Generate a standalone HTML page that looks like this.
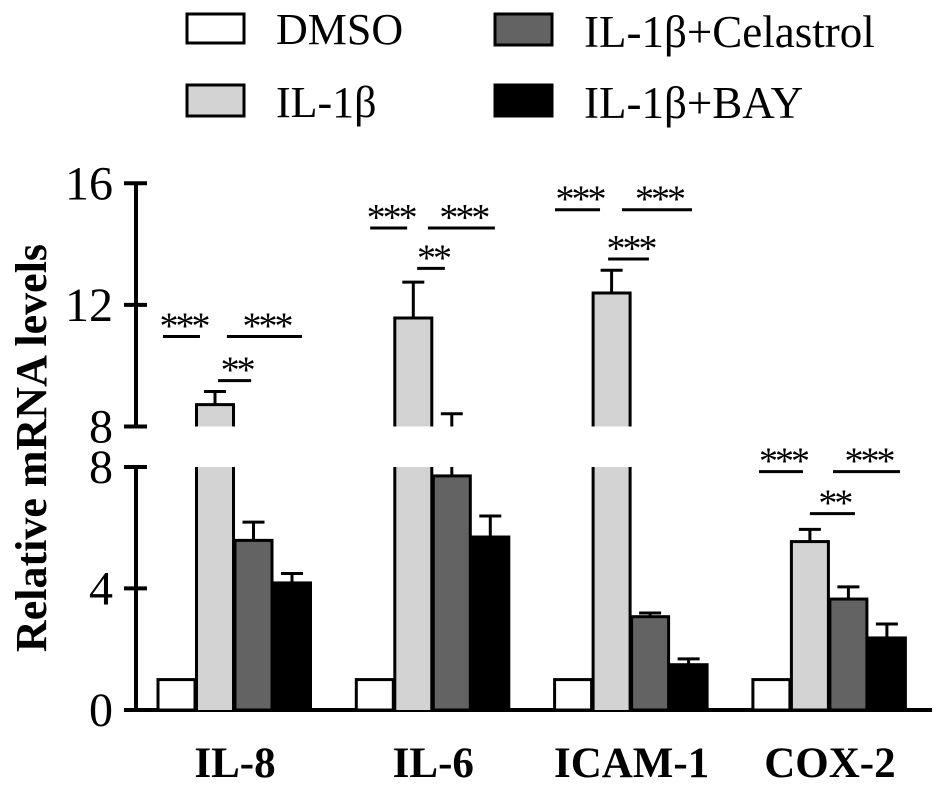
<!DOCTYPE html>
<html><head><meta charset="utf-8"><style>
html,body{margin:0;padding:0;background:#fff;}
svg{display:block;font-family:"Liberation Serif",serif;}
</style></head><body>
<svg id="chart" width="945" height="787" viewBox="0 0 945 787">
<g id="legend">
  <g><rect x="187" y="14" width="57" height="29" fill="#fff" stroke="#000" stroke-width="3"/><text x="276" y="44" font-size="44">DMSO</text></g>
  <g><rect x="187" y="85" width="57" height="31" fill="#d3d3d3" stroke="#000" stroke-width="3"/><text x="276" y="117" font-size="44">IL-1β</text></g>
  <g><rect x="495" y="14" width="57" height="31" fill="#636363" stroke="#000" stroke-width="3"/><text x="584" y="47" font-size="45">IL-1β+Celastrol</text></g>
  <g><rect x="495" y="85" width="57" height="31" fill="#000" stroke="#000" stroke-width="3"/><text x="584" y="118" font-size="45">IL-1β+BAY</text></g>
</g>
<text transform="translate(46,448) rotate(-90)" text-anchor="middle" font-size="44" font-weight="bold">Relative mRNA levels</text>
<g id="axes"></g>
<g id="bars"></g>
<g id="sig"></g>
</svg>
<script>
const categories = ["IL-8","IL-6","ICAM-1","COX-2"];
const seriesNames = ["DMSO","IL-1β","IL-1β+Celastrol","IL-1β+BAY"];
const dmso = [1,1,1,1];
const il1b = [8.72,11.57,12.39,5.54];
const celastrol = [5.58,7.7,3.07,3.65];
const bay = [4.18,5.69,1.49,2.37];
const dmsoErr = [0,0,0,0];
const il1bErr = [0.43,1.18,0.75,0.4];
const celastrolErr = [0.6,0.72,0.12,0.4];
const bayErr = [0.31,0.69,0.19,0.46];
const lowerTicks = [0,4,8];
const upperTicks = [8,12,16];
const sigCat = [0,0,0,1,1,1,2,2,2,3,3,3];
const sigFrom = [0.13,1.79,1.56,0.36,1.86,1.58,0.01,1.75,1.39,0.16,2.08,1.48];
const sigTo = [1.09,3.74,2.42,1.32,3.6,2.3,1.18,3.57,2.45,1.3,3.82,2.65];
const sigLabel = ["***","***","**","***","***","**","***","***","***","***","***","**"];
const sigHeight = [10.96,10.96,9.51,14.53,14.53,13.2,15.13,15.13,13.51,7.84,7.84,6.46];

const NS="http://www.w3.org/2000/svg";
const fills=["#fff","#d3d3d3","#636363","#000"];
const vals=[dmso,il1b,celastrol,bay], errs=[dmsoErr,il1bErr,celastrolErr,bayErr];
const PX=30.4, Y0=710, UPPER8=426.5, LOWERTOP=467, BREAK=8;
function yScale(v){return v<=BREAK? Y0-v*PX : UPPER8-(v-BREAK)*PX;}
function yUpper(v){return UPPER8-(v-BREAK)*PX;}
function xGroup(c){return 158+c*198.3;}
function xBar(c,s){return xGroup(c)+s*38.5;}
const BW=37;
function el(tag,attrs,parent){const e=document.createElementNS(NS,tag);for(const k in attrs)e.setAttribute(k,attrs[k]);parent.appendChild(e);return e;}
const axes=document.getElementById('axes'),bars=document.getElementById('bars'),sig=document.getElementById('sig');
let a1=el('line',{x1:136,y1:yUpper(16),x2:136,y2:UPPER8,stroke:'#000','stroke-width':4},axes);


let a2=el('line',{x1:136,y1:LOWERTOP,x2:136,y2:Y0+2,stroke:'#000','stroke-width':4},axes);


let xa=el('line',{x1:124,y1:Y0,x2:932,y2:Y0,stroke:'#000','stroke-width':4},axes);


lowerTicks.forEach(t=>{const y=t===8?LOWERTOP:Y0-t*PX;
  let l=el('line',{x1:124,y1:y,x2:147,y2:y,stroke:'#000','stroke-width':4},axes);
  
  
  let tx=el('text',{x:113,y:y+16,'text-anchor':'end','font-size':48},axes);tx.textContent=t;
  
  
});
upperTicks.forEach(t=>{const y=yUpper(t);
  let l=el('line',{x1:124,y1:y,x2:147,y2:y,stroke:'#000','stroke-width':4},axes);
  
  
  let tx=el('text',{x:113,y:y+16,'text-anchor':'end','font-size':48},axes);tx.textContent=t;
  
  
});
categories.forEach((c,ci)=>{
  let lab=el('text',{x:xBar(ci,0)+77,y:777,'text-anchor':'middle','font-size':43,'font-weight':'bold'},axes);lab.textContent=c;
  
  
  for(let s=0;s<4;s++){
    const v=vals[s][ci],e=errs[s][ci],x=xBar(ci,s);
    const g=el('g',{},bars);
    
    
    if(e>0){const top=v+e;const cx=x+BW/2;
      if(v<BREAK&&top>BREAK){el('line',{x1:cx,y1:LOWERTOP,x2:cx,y2:yScale(v),stroke:'#000','stroke-width':3},g);
        el('line',{x1:cx,y1:yUpper(top),x2:cx,y2:UPPER8,stroke:'#000','stroke-width':3},g);}
      else el('line',{x1:cx,y1:yScale(top),x2:cx,y2:yScale(v),stroke:'#000','stroke-width':3},g);
      el('line',{x1:cx-11,y1:yScale(top),x2:cx+11,y2:yScale(top),stroke:'#000','stroke-width':3},g);}
    if(v<=BREAK){el('rect',{x:x,y:yScale(v),width:BW,height:Y0-yScale(v),fill:fills[s],stroke:'#000','stroke-width':3},g);}
    else{
      el('rect',{x:x,y:LOWERTOP,width:BW,height:Y0-LOWERTOP,fill:fills[s],stroke:'none'},g);
      el('path',{d:`M${x},${Y0}V${LOWERTOP}M${x+BW},${LOWERTOP}V${Y0}`,stroke:'#000','stroke-width':3,fill:'none'},g);
      el('rect',{x:x,y:yUpper(v),width:BW,height:UPPER8-yUpper(v),fill:fills[s],stroke:'none'},g);
      el('path',{d:`M${x},${UPPER8}V${yUpper(v)}H${x+BW}V${UPPER8}`,stroke:'#000','stroke-width':3,fill:'none'},g);
    }
  }
});
sigCat.forEach((c,i)=>{
  const x1=xGroup(c)+sigFrom[i]*38.5, x2=xGroup(c)+sigTo[i]*38.5;
  const y=yScale(sigHeight[i]);
  const g=el('g',{},sig);
  
  
  el('line',{x1:x1,y1:y,x2:x2,y2:y,stroke:'#000','stroke-width':3},g);
  const t=el('text',{x:(x1+x2)/2+2,y:y+2,'text-anchor':'middle','font-size':38,'letter-spacing':-3},g);t.textContent=sigLabel[i];
});
</script>
</body></html>
